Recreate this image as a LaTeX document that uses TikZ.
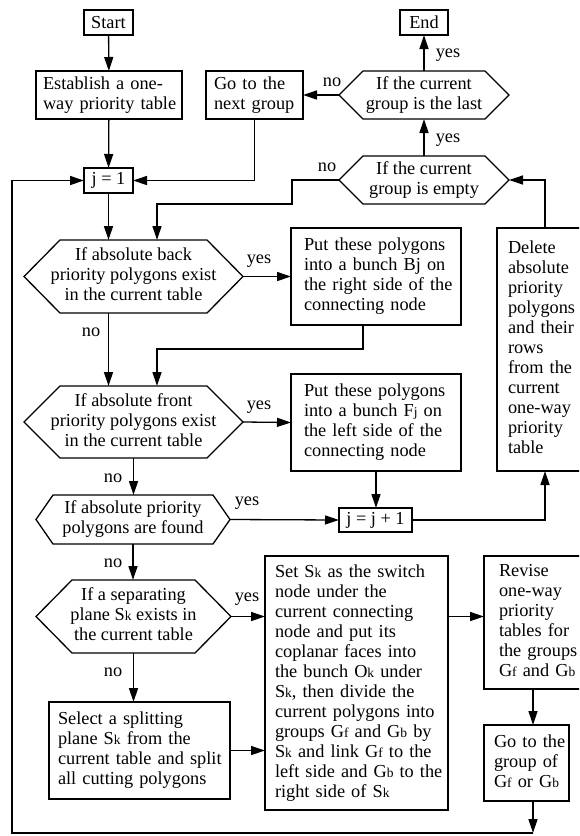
\documentclass[tikz,border=0pt]{standalone}
\usepackage{fontspec}
\setmainfont{Liberation Serif}
\usetikzlibrary{arrows.meta}

% small index letters (Sk, Gf, Gb, ...)
\newcommand\idx[1]{{\fontsize{13.5pt}{20pt}\selectfont #1}}
% left-aligned and centred line stacks that never re-wrap
\newcommand\llines[1]{\begin{tabular}{@{}l@{}}#1\end{tabular}}
\newcommand\clines[1]{\begin{tabular}{@{}c@{}}#1\end{tabular}}
% hexagonal outline around a (borderless) decision node
\newcommand\hexframe[2]{%
  \draw[frame] ([xshift=#2]#1.north west) -- ([xshift=-#2]#1.north east)
    -- (#1.east) -- ([xshift=-#2]#1.south east)
    -- ([xshift=#2]#1.south west) -- (#1.west) -- cycle;}

\begin{document}
\begin{tikzpicture}[x=1pt,y=-1pt,
  font=\fontsize{18.3pt}{20pt}\selectfont,
  frame/.style={line width=1.3pt, line join=miter},
  box/.style={draw, frame, inner sep=0pt, outer sep=0pt, align=center},
  tbox/.style={box, align=left, inner ysep=0pt},
  hexnode/.style={inner sep=0pt, outer sep=0pt, align=center},
  arr/.style={frame, -{Triangle[length=14pt,width=9pt]}},
  conn/.style={frame},
  lbl/.style={inner sep=0pt}]

\useasboundingbox (0,0) rectangle (579,836);
\clip (0,0) rectangle (579,836);
\fill[white] (0,0) rectangle (579,836);

% ---- terminals and simple steps
\node[box, minimum width=49pt, minimum height=25pt] (start) at (108.5,22.5) {Start};
\node[box, minimum width=48pt, minimum height=25pt] (endn) at (424,22.5) {End};
\node[box, minimum width=49pt, minimum height=25pt] (jone) at (108.5,180.5) {j = 1};
\node[box, minimum width=73pt, minimum height=24pt] (jinc) at (375.5,520) {j = j + 1};

\node[tbox, minimum width=146pt, minimum height=48pt, text width=132pt, inner xsep=7pt]
  (est) at (109,95) {\llines{Establish a one-\\way priority table}};
\node[tbox, minimum width=97pt, minimum height=48pt, text width=81pt, inner xsep=8pt]
  (next) at (254.5,95) {\llines{Go to the\\next group}};
\node[tbox, minimum width=170pt, minimum height=97pt, text width=144pt, inner xsep=13pt]
  (put1) at (376,276.5) {\llines{Put these polygons\\into a bunch Bj on\\the right side of the\\connecting node}};
\node[tbox, minimum width=170pt, minimum height=97pt, text width=144pt, inner xsep=13pt]
  (put2) at (376,422.5) {\llines{Put these polygons\\into a bunch F\idx{j} on\\the left side of the\\connecting node}};
\node[tbox, minimum width=96pt, minimum height=243pt, text width=74pt, inner xsep=11pt]
  (del) at (545,349.5) {\llines{Delete\\absolute\\priority\\polygons\\and their\\rows\\from the\\current\\one-way\\priority\\table}};
\node[tbox, minimum width=183pt, minimum height=254pt, text width=163pt, inner xsep=10pt]
  (set) at (356.5,683) {\llines{Set S\idx{k} as the switch\\node under the\\current connecting\\node and put its\\coplanar faces into\\the bunch O\idx{k} under\\S\idx{k}, then divide the\\current polygons into\\groups G\idx{f} and G\idx{b} by\\S\idx{k} and link G\idx{f} to the\\left side and G\idx{b} to the\\right side of S\idx{k}}};
\node[tbox, minimum width=98pt, minimum height=133pt, text width=68pt, inner xsep=15pt]
  (revise) at (533,622.5) {\llines{Revise\\one-way\\priority\\tables for\\the groups\\G\idx{f} and G\idx{b}}};
\node[tbox, minimum width=181pt, minimum height=97pt, text width=163pt, inner xsep=9pt]
  (select) at (139.5,750.5) {\llines{Select a splitting\\plane S\idx{k} from the\\current table and split\\all cutting polygons}};
\node[tbox, minimum width=85pt, minimum height=76pt, text width=65pt, inner xsep=10pt]
  (gogrp) at (526.5,763) {\llines{Go to the\\group of\\G\idx{f} or G\idx{b}}};

% ---- decisions
\node[hexnode, minimum width=170pt, minimum height=48pt] (hlast) at (424,95)
  {\clines{If the current\\group is the last}};
\hexframe{hlast}{24pt}
\node[hexnode, minimum width=170pt, minimum height=48pt] (hempty) at (424,180)
  {\clines{If the current\\group is empty}};
\hexframe{hempty}{24pt}
\node[hexnode, minimum width=219pt, minimum height=73pt] (hback) at (133.5,276.5)
  {\clines{If absolute back\\priority polygons exist\\in the current table}};
\hexframe{hback}{36pt}
\node[hexnode, minimum width=219pt, minimum height=72pt] (hfront) at (133.5,422)
  {\clines{If absolute front\\priority polygons exist\\in the current table}};
\hexframe{hfront}{36pt}
\node[hexnode, minimum width=194pt, minimum height=49pt] (hfound) at (133,519.5)
  {\clines{If absolute priority\\polygons are found}};
\hexframe{hfound}{17pt}
\node[hexnode, minimum width=195pt, minimum height=73pt] (hsep) at (133.5,616.5)
  {\clines{If a separating\\plane S\idx{k} exists in\\the current table}};
\hexframe{hsep}{36pt}

% ---- bend points
\coordinate (emptybend) at (292,204);
\coordinate (loopdrop) at (533,833);
\coordinate (loopleft) at (12,833);

% ---- connectors
\draw[arr] (start) -- (est);
\draw[arr] (est) -- (jone);
\draw[arr] (next.south) |- (jone.east);
\draw[arr] (hlast.north) -- (endn.south);
\draw[arr] (hempty.north) -- (hlast.south);
\draw[arr] (hlast.west) -- (next.east);
\draw[arr] (hempty.west) -| (emptybend) -| ([xshift=23.5pt]hback.north);
\draw[arr] (del.north) |- (hempty.east);
\draw[arr] (jone.south) -- (jone.south |- hback.north);
\draw[arr] (hback.east) -- (put1.west);
\draw[arr] ([xshift=-13pt]put1.south) -- ++(0,24) -| ([xshift=23.5pt]hfront.north);
\draw[arr] (jone.south |- hback.south) -- (jone.south |- hfront.north);
\draw[arr] (hfront.east) -- (put2.west);
\draw[arr] (hfront.south) -- (hfront.south |- hfound.north);
\draw[arr] (put2.south) -- (put2.south |- jinc.north);
\draw[arr] (hfound.east) -- (jinc.west);
\draw[arr] (jinc.east) -| (del.south);
\draw[arr] (hfound.south) -- (hfound.south |- hsep.north);
\draw[arr] (hsep.east) -- (set.west |- hsep.east);
\draw[arr] (hsep.south) -- (hsep.south |- select.north);
\draw[arr] (select.east) -- (set.west |- select.east);
\draw[arr] (set.east |- hsep.east) -- (revise.west |- hsep.east);
\draw[arr] (revise.south) -- (revise.south |- gogrp.north);
\draw[arr] (revise.south |- gogrp.south) -- (loopdrop);
\draw[arr] (loopdrop) -- (loopleft) |- (jone.west);

% ---- branch labels
\node[lbl] (ylast) at (448,55) {yes};
\node[lbl] (yempty) at (448,140) {yes};
\node[lbl] (nlast) at (332,82) {no};
\node[lbl] (nempty) at (327,167) {no};
\node[lbl] (yback) at (259,261) {yes};
\node[lbl] (nback) at (91,332) {no};
\node[lbl] (yfront) at (259,407) {yes};
\node[lbl] (nfront) at (113,478) {no};
\node[lbl] (yfound) at (247,503) {yes};
\node[lbl] (nfound) at (113,563) {no};
\node[lbl] (ysep) at (247,599) {yes};
\node[lbl] (nsep) at (113,672) {no};
\end{tikzpicture}
\end{document}
